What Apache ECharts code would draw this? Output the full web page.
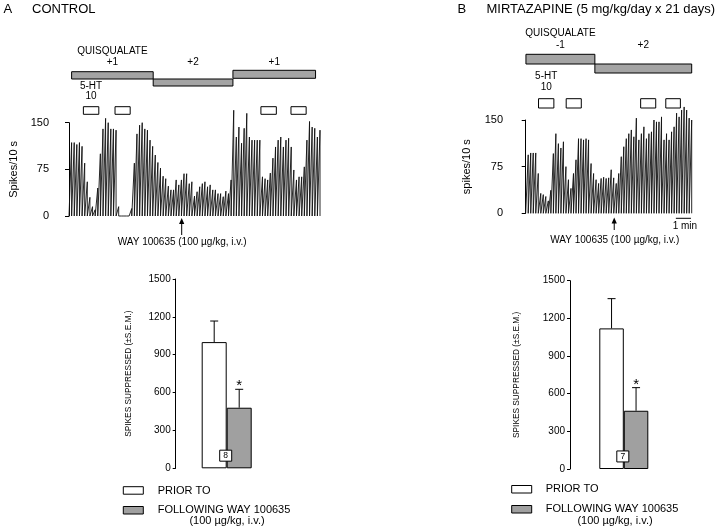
<!DOCTYPE html>
<html><head><meta charset="utf-8">
<script src="https://cdn.jsdelivr.net/npm/echarts@6/dist/echarts.min.js"></script>
<style>html,body{margin:0;padding:0;background:#fff}#c{width:720px;height:530px}</style>
</head><body><div id="c"></div>
<script>
// ---------- DATA ----------
// Ratemeter traces: spikes per 10-s bin
const traceA = [118,118,115,118,112,85,55,30,15,10,
  45,100,140,157,150,140,140,138,15,0,
  0,0,0,12,85,132,146,150,140,138,
  122,112,98,86,77,64,60,48,42,42,
  58,50,58,68,68,52,55,32,39,47,
  52,55,47,50,42,42,36,36,31,40,
  36,58,170,127,143,117,141,165,127,122,
  122,122,122,63,60,58,69,93,111,122,
  127,111,122,125,111,74,58,63,63,79,
  122,152,143,141,127,138];
const traceB = [94,97,97,97,64,32,30,27,20,37,
  96,128,112,105,115,75,54,40,64,86,
  120,120,118,120,118,80,64,54,48,56,
  58,56,57,70,57,48,64,91,107,120,
  128,134,123,153,118,128,139,120,128,131,
  150,147,147,155,118,128,118,131,139,161,
  155,166,171,166,153,150];
const traceTicks = [0, 75, 150];
// Quisqualate current periods (bins) and doses
const quisqA = [[1.0, 32.2], [32.2, 62.7], [62.7, 94.3]];
const dosesA = ['+1', '+2', '+1'];
const quisqB = [[0.1, 27.5], [27.5, 66]];
const dosesB = ['-1', '+2'];
// 5-HT (10) ejection periods (bins)
const htA = [[5.5, 11.4], [17.6, 23.4], [73.4, 79.3], [84.9, 90.7]];
const htB = [[5.1, 11.2], [16.1, 22.1], [45.7, 51.7], [55.7, 61.5]];
// WAY 100635 injection (bin)
const wayA = 43.1;
const wayB = 35.2;
const oneMinBins = 6; // 6 x 10 s
// Bar charts
const barNames = ['PRIOR TO', 'FOLLOWING WAY 100635'];
const meansA = [1000, 480];
const semA = [167, 146];
const nA = 8;
const meansB = [1120, 464];
const semB = [237, 184];
const nB = 7;
const sig = ['', '*'];
const barTicks = [0, 300, 600, 900, 1200, 1500];

// ---------- LAYOUT ----------
const FONT = '"Liberation Sans", Arial, Helvetica, sans-serif';
const LAY = {
  A: {quisqY: [[71.7, 79], [79, 86], [70.3, 78.3]], doseY: 62.5, qLabelY: 51, boxY: [106.7, 114.3], htY: [86, 96.5], arrowY: [218, 235], wayY: 242},
  B: {quisqY: [[54.3, 64], [64, 73]], doseY: 45, qLabelY: 33.3, boxY: [98.7, 108], htY: [76.7, 87.7], arrowY: [217.5, 230], wayY: 240, scaleY: 218.3, scaleTextY: 226.5}
};

function txt(text, x, y, size, align, extra) {
  return Object.assign({type: 'text', style: {text, x, y, fill: '#000', fontSize: size, fontFamily: FONT,
    align: align || 'center', verticalAlign: 'middle', textAlign: align || 'center', textVerticalAlign: 'middle'}}, extra || {});
}

function sawtooth(vals) {
  const pts = [[0, 0]];
  vals.forEach((h, i) => { pts.push([i + 1, h]); pts.push([i + 1, 0]); });
  return pts;
}

function traceSeries(idx, vals) {
  return {type: 'line', xAxisIndex: idx, yAxisIndex: idx, data: sawtooth(vals), showSymbol: false, symbol: 'none',
    clip: false, lineStyle: {color: '#111', width: 0.9}, animation: false, silent: true};
}

function quisqSeries(idx, segs, doses, lay) {
  return {type: 'custom', xAxisIndex: idx, yAxisIndex: idx, clip: false, silent: true, animation: false,
    data: segs.map((s, i) => [s[0], s[1], i]),
    encode: {x: [0, 1]},
    renderItem: (p, api) => {
      const i = api.value(2);
      const x0 = api.coord([api.value(0), 0])[0], x1 = api.coord([api.value(1), 0])[0];
      const L = lay.quisqY[i];
      const ch = [{type: 'rect', shape: {x: x0, y: L[0], width: x1 - x0, height: L[1] - L[0]},
          style: {fill: '#a4a4a4', stroke: '#000', lineWidth: 1}},
        txt(doses[i], (x0 + x1) / 2, lay.doseY, 10)];
      if (i === 0) ch.push(txt('QUISQUALATE', (x0 + x1) / 2, lay.qLabelY, 10));
      return {type: 'group', children: ch};
    }};
}

function htSeries(idx, segs, lay) {
  return {type: 'custom', xAxisIndex: idx, yAxisIndex: idx, clip: false, silent: true, animation: false,
    data: segs.map((s, i) => [s[0], s[1], i]),
    encode: {x: [0, 1]},
    renderItem: (p, api) => {
      const i = api.value(2);
      const x0 = api.coord([api.value(0), 0])[0], x1 = api.coord([api.value(1), 0])[0];
      const ch = [{type: 'rect', shape: {x: x0, y: lay.boxY[0], width: x1 - x0, height: lay.boxY[1] - lay.boxY[0]},
        style: {fill: '#fff', stroke: '#000', lineWidth: 1}}];
      if (i === 0) {
        ch.push(txt('5-HT', (x0 + x1) / 2, lay.htY[0], 10));
        ch.push(txt('10', (x0 + x1) / 2, lay.htY[1], 10));
      }
      return {type: 'group', children: ch};
    }};
}

function waySeries(idx, bin, nBins, lay, withScale) {
  return {type: 'custom', xAxisIndex: idx, yAxisIndex: idx, clip: false, silent: true, animation: false,
    data: [[bin, 0]],
    renderItem: (p, api) => {
      const x = api.coord([api.value(0), 0])[0];
      const t = lay.arrowY[0], b = lay.arrowY[1];
      const ch = [
        {type: 'line', shape: {x1: x, y1: t + 4, x2: x, y2: b}, style: {stroke: '#000', lineWidth: 1}},
        {type: 'polygon', shape: {points: [[x, t], [x - 2.6, t + 6], [x + 2.6, t + 6]]}, style: {fill: '#000'}},
        txt('WAY 100635 (100 \u00b5g/kg, i.v.)', x + 0.5, lay.wayY, 10)
      ];
      if (withScale) {
        const s = api.coord([nBins - 0.3 - oneMinBins, 0])[0];
        const s2 = api.coord([nBins - 0.3, 0])[0];
        ch.push({type: 'line', shape: {x1: s, y1: lay.scaleY, x2: s2, y2: lay.scaleY}, style: {stroke: '#000', lineWidth: 1}});
        ch.push(txt('1 min', (s + s2) / 2 + 1.5, lay.scaleTextY, 10));
      }
      return {type: 'group', children: ch};
    }};
}

function barExtras(idx, means, sems, n, barW) {
  return {type: 'custom', xAxisIndex: idx, yAxisIndex: idx, clip: false, silent: true, animation: false, z: 5,
    data: means.map((m, k) => [0, m, m + sems[k], k]),
    renderItem: (p, api) => {
      const k = api.value(3);
      const c0 = api.coord([0, api.value(1)]);
      const c1 = api.coord([0, api.value(2)]);
      const x = c0[0] + (k === 0 ? -1 : 1) * barW / 2;
      const ch = [
        {type: 'line', shape: {x1: x, y1: c0[1], x2: x, y2: c1[1]}, style: {stroke: '#000', lineWidth: 1}},
        {type: 'line', shape: {x1: x - 4, y1: c1[1], x2: x + 4, y2: c1[1]}, style: {stroke: '#000', lineWidth: 1}}
      ];
      if (sig[k]) ch.push(txt(sig[k], x, c1[1] - 3, 15));
      if (k === 0) {
        const cb = api.coord([0, 100]);
        ch.push({type: 'rect', shape: {x: cb[0] - 7, y: cb[1] - 5.5, width: 12, height: 11},
          style: {fill: '#fff', stroke: '#000', lineWidth: 1}});
        ch.push(txt(String(n), cb[0] - 1, cb[1] + 0.3, 8.5));
      }
      return {type: 'group', children: ch};
    }};
}

function traceY(idx, name, offset, gap) {
  return {gridIndex: idx, type: 'value', min: traceTicks[0], max: traceTicks[traceTicks.length - 1], interval: traceTicks[1] - traceTicks[0], offset: offset,
    axisLine: {show: true, lineStyle: {color: '#000', width: 1}},
    axisTick: {show: true, length: 4, lineStyle: {color: '#000'}},
    axisLabel: {fontSize: 11, color: '#000', margin: 6, fontFamily: FONT, formatter: v => String(v)},
    splitLine: {show: false},
    name: name, nameLocation: 'middle', nameGap: gap, nameRotate: 90,
    nameTextStyle: {fontSize: 11, color: '#000', fontFamily: FONT}};
}
function barY(idx, gap) {
  return {gridIndex: idx, type: 'value', min: barTicks[0], max: barTicks[barTicks.length - 1], interval: barTicks[1] - barTicks[0],
    axisLine: {show: true, lineStyle: {color: '#000', width: 1}},
    axisTick: {show: true, length: 3, lineStyle: {color: '#000'}},
    axisLabel: {fontSize: 10, color: '#000', margin: 5, fontFamily: FONT, formatter: v => String(v)},
    splitLine: {show: false},
    name: 'SPIKES SUPPRESSED (\u00b1S.E.M.)', nameLocation: 'middle', nameGap: gap, nameRotate: 90,
    nameTextStyle: {fontSize: 8.3, color: '#000', fontFamily: FONT}};
}
function barSeries(idx, means, barW) {
  return [
    {type: 'bar', name: barNames[0], xAxisIndex: idx, yAxisIndex: idx, data: [means[0]], barWidth: barW, barGap: '0%',
      itemStyle: {color: '#fff', borderColor: '#000', borderWidth: 1}, animation: false, silent: true},
    {type: 'bar', name: barNames[1], xAxisIndex: idx, yAxisIndex: idx, data: [means[1]], barWidth: barW, barGap: '0%',
      itemStyle: {color: '#a0a0a0', borderColor: '#000', borderWidth: 1}, animation: false, silent: true}
  ];
}

function legendGraphic(bx, textX, y1, y2, y3, centerX) {
  return [
    {type: 'rect', shape: {x: bx, y: y1 - 3.8, width: 20, height: 7.5}, style: {fill: '#fff', stroke: '#000', lineWidth: 1}},
    txt(barNames[0], textX, y1, 11, 'left'),
    {type: 'rect', shape: {x: bx, y: y2 - 3.8, width: 20, height: 7.5}, style: {fill: '#a0a0a0', stroke: '#000', lineWidth: 1}},
    txt(barNames[1], textX, y2, 11, 'left'),
    txt('(100 \u00b5g/kg, i.v.)', centerX, y3, 11)
  ];
}

const chart = echarts.init(document.getElementById('c'), null, {renderer: 'canvas'});
chart.setOption({
  animation: false,
  backgroundColor: '#fff',
  grid: [
    {left: 69, top: 122.7, width: 251, height: 93.3},
    {left: 525.7, top: 120, width: 166, height: 93.3},
    {left: 175.7, top: 279, width: 102, height: 189.3},
    {left: 570, top: 280.7, width: 107.6, height: 188.3}
  ],
  xAxis: [
    {gridIndex: 0, type: 'value', min: 0, max: traceA.length, show: false},
    {gridIndex: 1, type: 'value', min: 0, max: traceB.length, show: false},
    {gridIndex: 2, type: 'category', data: ['A'], show: false},
    {gridIndex: 3, type: 'category', data: ['B'], show: false}
  ],
  yAxis: [
    traceY(0, 'Spikes/10 s', 14, 36),
    traceY(1, 'spikes/10 s', 16.7, 37),
    barY(2, 43),
    barY(3, 49)
  ],
  series: [
    traceSeries(0, traceA), traceSeries(1, traceB),
    quisqSeries(0, quisqA, dosesA, LAY.A), quisqSeries(1, quisqB, dosesB, LAY.B),
    htSeries(0, htA, LAY.A), htSeries(1, htB, LAY.B),
    waySeries(0, wayA, traceA.length, LAY.A, false), waySeries(1, wayB, traceB.length, LAY.B, true),
    ...barSeries(2, meansA, 25), ...barSeries(3, meansB, 24.5),
    barExtras(2, meansA, semA, nA, 25), barExtras(3, meansB, semB, nB, 24.5)
  ],
  graphic: [
    txt('A', 3.5, 9.5, 13, 'left'),
    txt('CONTROL', 32, 9.5, 13, 'left'),
    txt('B', 457.5, 9.5, 13, 'left'),
    txt('MIRTAZAPINE (5 mg/kg/day x 21 days)', 486.5, 9.5, 13, 'left'),
    ...legendGraphic(123.3, 157.7, 490.5, 510.3, 521.3, 227),
    ...legendGraphic(511.7, 545.7, 489.3, 509.3, 520.8, 615)
  ]
});
</script></body></html>
